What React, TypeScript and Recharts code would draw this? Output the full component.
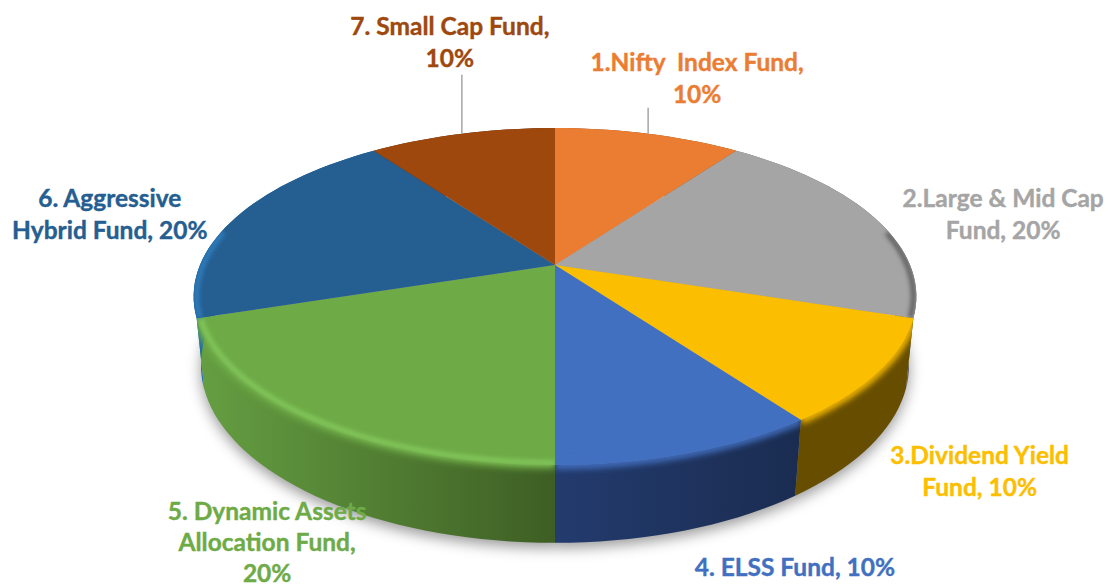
import React from "react";
import { PieChart, Pie } from "recharts";

const fundLabels: string[][] = [
  ["1.Nifty  Index Fund,", "10%"],
  ["2.Large & Mid Cap", "Fund, 20%"],
  ["3.Dividend Yield", "Fund, 10%"],
  ["4. ELSS Fund, 10%"],
  ["5. Dynamic Assets", "Allocation Fund,", "20%"],
  ["6. Aggressive", "Hybrid Fund, 20%"],
  ["7. Small Cap Fund,", "10%"],
];
const fundNames = ["Nifty Index Fund", "Large & Mid Cap Fund", "Dividend Yield Fund", "ELSS Fund", "Dynamic Assets Allocation Fund", "Aggressive Hybrid Fund", "Small Cap Fund"];
const shares = [10, 20, 10, 10, 20, 20, 10];

const faceColors = ["#EB7D33", "#A5A5A5", "#FCBE00", "#4270C0", "#6EAB47", "#255E91", "#9E480E"];
const rimColors = ["#EB7D33", "#5f5f5f", "#FCBE00", "#4270C0", "#86CC5E", "#2f7fc0", "#9E480E"];
const wallStart = ["#8a4a1d", "#6a6a6a", "#664d00", "#233b6e", "#659f42", "#1d6aa8", "#5e2b08"];
const wallEnd = ["#8a4a1d", "#5a5a5a", "#664d00", "#1a2c50", "#3e5e24", "#1d6aa8", "#5e2b08"];

const rows = shares.map((value, idx) => ({ name: fundNames[idx], value, idx, fill: faceColors[idx] }));

// Layout of the labels, relative to the rim point of each slice's mid angle.
const labelOffsets: [number, number][] = [
  [49, -72], [129, -20.5], [102, 82], [106.5, 113], [-42, 91], [-126, -20.5], [-12, -108],
];
const lineGaps = [32, 32, 32, 32, 31, 32, 32];
const leaderLengths: Record<number, number> = { 0: 26, 6: 59 };

const W = 1111;
const H = 588;
const CX = 555;
const CY = 265;
const R = 355;
const PERSP = 0.187;
const TILT = 0.458;
const DEPTH = 0.194;
const SHRINK = 0.02;

const toXY = (cx: number, cy: number, r: number, deg: number, radial = 1, lowered = false) => {
  const t = (deg * Math.PI) / 180;
  const u = Math.cos(t) * radial;
  const v = Math.sin(t) * radial;
  const w = 1 + PERSP * v + (lowered ? SHRINK : 0);
  const dz = lowered ? DEPTH * r : 0;
  return { x: cx + (r * u) / w, y: cy + (-r * TILT * v + dz) / w };
};

const arcAngles = (p: any) => {
  const n = Math.max(2, Math.ceil(Math.abs(p.endAngle - p.startAngle) / 2));
  return Array.from({ length: n + 1 }, (_, i) => p.startAngle + ((p.endAngle - p.startAngle) * i) / n);
};
const arcPts = (p: any, radial = 1, lowered = false) =>
  arcAngles(p).map((a) => toXY(p.cx, p.cy, p.outerRadius, a, radial, lowered));
const toD = (pts: { x: number; y: number }[]) =>
  pts.map((q, i) => `${i ? "L" : "M"}${q.x.toFixed(2)} ${q.y.toFixed(2)}`).join("");

const ShadowShape = (p: any) => {
  const pts = arcPts(p, 1.0, true);
  return (
    <path
      d={`${toD(pts)}L${p.cx} ${p.cy + 60}Z`}
      fill="#000"
      fillOpacity={0.4}
      stroke="none"
      filter="url(#softShadow)"
      transform="translate(0 5)"
    />
  );
};

const wallPath = (p: any) => {
  const top = arcPts(p);
  const bottom = arcPts(p, 1, true).reverse();
  return `${toD(top)}${toD(bottom).replace("M", "L")}Z`;
};

const WallShape = (p: any) => <path d={wallPath(p)} fill={`url(#wall${p.idx})`} stroke="none" />;

const FaceShape = (p: any) => {
  const rim = arcPts(p);
  const front = arcAngles(p).filter((a) => Math.sin((a * Math.PI) / 180) < 0.22);
  const isGreen = p.idx === 4;
  const usesRim = isGreen || p.idx === 1 || p.idx === 5;
  const inset = (radial: number) => toD(front.map((a) => toXY(p.cx, p.cy, p.outerRadius, a, radial)));
  const faceD = `M${p.cx} ${p.cy}${toD(rim).replace("M", "L")}Z`;
  return (
    <g>
      <clipPath id={`sliceClip${p.idx}`}>
        <path d={faceD} />
        <path d={wallPath(p)} />
      </clipPath>
      <path d={faceD} fill={faceColors[p.idx]} stroke="none" />
      {front.length > 1 && (
        <g clipPath={`url(#sliceClip${p.idx})`}>
          {p.idx !== 1 && p.idx !== 5 ? (
            <path d={inset(1)} fill="none" stroke={faceColors[p.idx]} strokeWidth={8} filter="url(#softBlend)" />
          ) : null}
          {usesRim ? (
            <path
              d={inset(isGreen ? 0.99 : 0.992)}
              fill="none"
              stroke={rimColors[p.idx]}
              strokeWidth={isGreen ? 4 : 5}
              filter="url(#softRim)"
            />
          ) : null}
        </g>
      )}
    </g>
  );
};

const renderLabel = (p: any) => {
  const a = toXY(p.cx, p.cy, p.outerRadius, p.midAngle);
  const [dx, dy] = labelOffsets[p.index];
  const lines = fundLabels[p.index];
  const leader = leaderLengths[p.index];
  return (
    <g>
      {leader ? <line x1={a.x} y1={a.y} x2={a.x} y2={a.y - leader} stroke="#A6A6A6" strokeWidth={1.5} /> : null}
      <text
        textAnchor="middle"
        fill={faceColors[p.index]}
        stroke={faceColors[p.index]}
        strokeWidth={0.4}
        style={{ fontFamily: "Lato, sans-serif", fontWeight: 700, fontSize: 24.5, whiteSpace: "pre" }}
      >
        {lines.map((line, i) => (
          <tspan key={i} x={a.x + dx} y={a.y + dy + i * lineGaps[p.index]} dominantBaseline="central">
            {line}
          </tspan>
        ))}
      </text>
    </g>
  );
};

const common = {
  data: rows,
  dataKey: "value",
  nameKey: "name",
  cx: CX,
  cy: CY,
  innerRadius: 0,
  outerRadius: R,
  startAngle: 90,
  endAngle: -270,
  stroke: "none",
  isAnimationActive: false,
  labelLine: false,
};

export default function App() {
  return (
    <div style={{ position: "absolute", left: 0, top: 0, width: W, height: H, background: "#fff" }}>
      <PieChart width={W} height={H} margin={{ top: 0, right: 0, bottom: 0, left: 0 }}>
        <defs>
          <filter id="softShadow" filterUnits="userSpaceOnUse" x={0} y={0} width={W} height={H}>
            <feGaussianBlur stdDeviation={7} />
          </filter>
          <filter id="softRim" filterUnits="userSpaceOnUse" x={0} y={0} width={W} height={H}>
            <feGaussianBlur stdDeviation={2} />
          </filter>
          <filter id="softBlend" filterUnits="userSpaceOnUse" x={0} y={0} width={W} height={H}>
            <feGaussianBlur stdDeviation={3} />
          </filter>
          {shares.map((_, i) => (
            <linearGradient key={i} id={`wall${i}`} x1="0" y1="0" x2="1" y2="0">
              <stop offset="0%" stopColor={wallStart[i]} />
              <stop offset="100%" stopColor={wallEnd[i]} />
            </linearGradient>
          ))}
        </defs>
        <Pie {...common} shape={ShadowShape} inactiveShape={ShadowShape} activeShape={ShadowShape} />
        <Pie {...common} shape={WallShape} inactiveShape={WallShape} activeShape={WallShape} />
        <Pie {...common} shape={FaceShape} inactiveShape={FaceShape} activeShape={FaceShape} label={renderLabel} />
      </PieChart>
    </div>
  );
}
